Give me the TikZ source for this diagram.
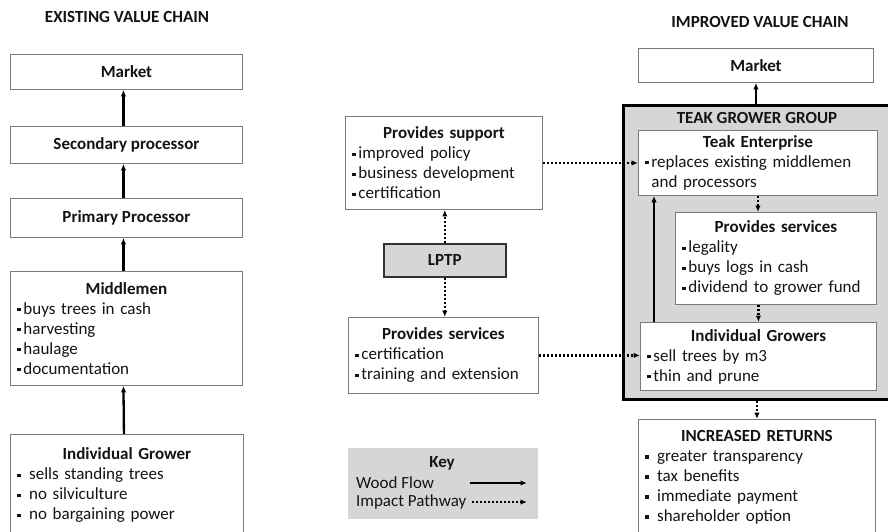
\documentclass[tikz,border=0pt]{standalone}
\usepackage{fontspec}
\setmainfont{Carlito}
\usepackage{xcolor}
\usetikzlibrary{arrows.meta,positioning}
\definecolor{boxline}{HTML}{7A7A7A}
\definecolor{shade}{HTML}{D6D6D6}
\definecolor{ink}{HTML}{141414}
\newcommand{\bodyfont}{\fontsize{17}{20}\selectfont}
\newcommand{\hd}[1]{{\centering\textbf{#1}\par}}
\newcommand{\bl}{\rule[0.18em]{3.2pt}{3.2pt}\,}
\newcommand{\bls}{\rule[0.18em]{3.2pt}{3.2pt}\enspace}
\tikzset{
  box/.style={draw=boxline, line width=0.9pt, fill=white, anchor=north west,
    inner xsep=7pt, inner ysep=0pt, align=left, font=\bodyfont, text=ink},
  greybox/.style={box, draw=black!80, line width=1.6pt, fill=shade},
  group/.style={draw=black, line width=2.8pt, fill=shade, anchor=north west},
  heading/.style={font=\bodyfont\bfseries, text=ink, inner sep=0pt},
  wood/.style={-{Latex[length=6.5pt,width=5.5pt]}, line width=2.3pt},
  impact/.style={-{Latex[length=6.5pt,width=5.5pt]}, line width=2.2pt,
    dash pattern=on 2pt off 2pt}
}
\begin{document}
\begin{tikzpicture}[x=1pt,y=-1pt]
  \useasboundingbox (0,0) rectangle (888,531);
  % existing chain
  \node[heading] (exttitle) at (127,17) {EXISTING VALUE CHAIN};
  \node[box, minimum width=232pt, minimum height=35pt] (mkt1) at (10,54) {\textbf{Market}};
  \node[box, minimum width=232pt, minimum height=37pt] (sec1) at (10,126) {\textbf{Secondary processor}};
  \node[box, minimum width=232pt, minimum height=39pt] (pri1) at (10,198) {\textbf{Primary Processor}};
  \node[box, minimum width=232pt, minimum height=114pt, text width=218pt] (mid1) at (10,271)
    {\hd{Middlemen}\bl buys trees in cash\\\bl harvesting\\\bl haulage\\\bl documentation};
  \node[box, minimum width=233pt, minimum height=102pt, text width=219pt] (grow1) at (10,434)
    {\hd{Individual Grower}\bls sells standing trees\\\bls no silviculture\\\bls no bargaining power};
  \draw[wood] ([xshift=-3pt]sec1.north) -- ([xshift=-3pt]mkt1.south);
  \draw[wood] ([xshift=-3pt]pri1.north) -- ([xshift=-3pt]sec1.south);
  \draw[wood] ([xshift=-3pt]mid1.north) -- ([xshift=-3pt]pri1.south);
  \draw[wood] ([xshift=-3pt]grow1.north) -- ([xshift=-3pt]mid1.south);
  % support
  \node[box, minimum width=197pt, minimum height=93pt, text width=183pt] (sup) at (345,116)
    {\hd{Provides support}\bl improved policy\\\bl business development\\\bl certification};
  \node[greybox, minimum width=122pt, minimum height=33pt] (lptp) at (383,243) {\textbf{LPTP}};
  \node[box, minimum width=190pt, minimum height=76pt, text width=176pt] (srv) at (348,317)
    {\hd{Provides services}\bl certification\\\bl training and extension};
  \draw[impact] (lptp.north) -- (lptp.north |- sup.south);
  \draw[impact] (lptp.south) -- (lptp.south |- srv.north);
  % key
  \node[box, draw=none, fill=shade, minimum width=190pt, minimum height=71pt] (key) at (348,448) {};
  \node[heading] (keyttl) at (442,463) {Key};
  \node[heading, font=\bodyfont, anchor=west] (kwood) at (356,483) {Wood Flow};
  \node[heading, font=\bodyfont, anchor=west] (kimp) at (356,502) {Impact Pathway};
  \coordinate (kwa) at (470,483);
  \coordinate (kwb) at (527,483);
  \coordinate (kia) at (472,502);
  \coordinate (kib) at (527,502);
  \draw[wood] (kwa) -- (kwb);
  \draw[impact] (kia) -- (kib);
  % improved chain
  \node[heading] (imptitle) at (760,22) {IMPROVED VALUE CHAIN};
  \node[box, minimum width=235pt, minimum height=34pt] (mkt2) at (638,48) {\textbf{Market}};
  \node[group, minimum width=272pt, minimum height=294pt] (grp) at (622,104) {};
  \node[heading] (grpttl) at (757,118) {TEAK GROWER GROUP};
  \node[box, minimum width=239pt, minimum height=65pt, text width=225pt] (ent) at (638,130)
    {\hd{Teak Enterprise}\bl replaces existing middlemen\\\hspace*{6pt}and processors};
  \node[box, minimum width=201pt, minimum height=92pt, text width=187pt] (psv) at (675,212)
    {\hd{Provides services}\bl legality\\\bl buys logs in cash\\\bl dividend to grower fund};
  \node[box, minimum width=236pt, minimum height=68pt, text width=222pt] (grw) at (640,322)
    {\hd{Individual Growers}\bl sell trees by m3\\\bl thin and prune};
  \node[box, minimum width=237pt, minimum height=116pt, text width=223pt] (ret) at (638,419)
    {\hd{INCREASED RETURNS}\bls greater transparency\\\bls tax benefits\\\bls immediate payment\\\bls shareholder option};
  \draw[wood] (mkt2.south |- grp.north) -- (mkt2.south);
  \draw[wood] ([xshift=14pt]grw.north west) -- ([xshift=14pt]grw.north west |- ent.south);
  \draw[impact] (ent.south) -- (ent.south |- psv.north);
  \draw[impact] (psv.south -| grw.north) -- (grw.north);
  \draw[impact] (grp.south -| ret.north) -- (ret.north);
  \draw[impact] (sup.east) -- (sup.east -| ent.west);
  \draw[impact] (srv.east) -- (srv.east -| grw.west);
\end{tikzpicture}
\end{document}
